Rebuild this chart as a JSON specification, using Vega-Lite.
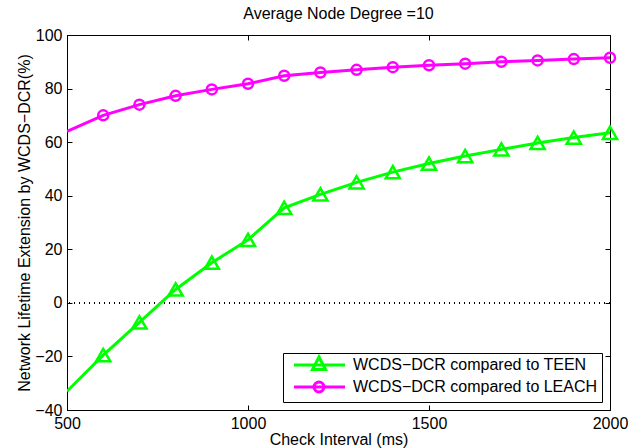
{
  "$schema": "https://vega.github.io/schema/vega-lite/v6.json",
  "autosize": "none",
  "width": 543,
  "height": 375,
  "padding": {"left": 67, "top": 35, "right": 20, "bottom": 38},
  "background": "white",
  "title": {"text": "Average Node Degree =10", "fontSize": 16, "fontWeight": "normal", "font": "Liberation Sans", "color": "black", "offset": 5},
  "config": {
    "view": {"stroke": "black", "strokeWidth": 1},
    "axis": {"grid": false, "labelFont": "Liberation Sans", "titleFont": "Liberation Sans", "labelFontSize": 16, "titleFontSize": 16, "titleFontWeight": "normal", "labelColor": "black", "titleColor": "black", "tickColor": "black", "domainColor": "black", "tickSize": -5, "labelPadding": 10}
  },
  "data": {"values": [
    {"interval": 500, "ext": -33, "series": "WCDS−DCR compared to TEEN"},
    {"interval": 600, "ext": -19.5, "series": "WCDS−DCR compared to TEEN"},
    {"interval": 700, "ext": -7.3, "series": "WCDS−DCR compared to TEEN"},
    {"interval": 800, "ext": 5, "series": "WCDS−DCR compared to TEEN"},
    {"interval": 900, "ext": 15, "series": "WCDS−DCR compared to TEEN"},
    {"interval": 1000, "ext": 23.5, "series": "WCDS−DCR compared to TEEN"},
    {"interval": 1100, "ext": 35.5, "series": "WCDS−DCR compared to TEEN"},
    {"interval": 1200, "ext": 40.5, "series": "WCDS−DCR compared to TEEN"},
    {"interval": 1300, "ext": 45, "series": "WCDS−DCR compared to TEEN"},
    {"interval": 1400, "ext": 48.8, "series": "WCDS−DCR compared to TEEN"},
    {"interval": 1500, "ext": 52, "series": "WCDS−DCR compared to TEEN"},
    {"interval": 1600, "ext": 54.8, "series": "WCDS−DCR compared to TEEN"},
    {"interval": 1700, "ext": 57.3, "series": "WCDS−DCR compared to TEEN"},
    {"interval": 1800, "ext": 59.7, "series": "WCDS−DCR compared to TEEN"},
    {"interval": 1900, "ext": 61.7, "series": "WCDS−DCR compared to TEEN"},
    {"interval": 2000, "ext": 63.5, "series": "WCDS−DCR compared to TEEN"},
    {"interval": 500, "ext": 64, "series": "WCDS−DCR compared to LEACH"},
    {"interval": 600, "ext": 70, "series": "WCDS−DCR compared to LEACH"},
    {"interval": 700, "ext": 74, "series": "WCDS−DCR compared to LEACH"},
    {"interval": 800, "ext": 77.3, "series": "WCDS−DCR compared to LEACH"},
    {"interval": 900, "ext": 79.7, "series": "WCDS−DCR compared to LEACH"},
    {"interval": 1000, "ext": 81.8, "series": "WCDS−DCR compared to LEACH"},
    {"interval": 1100, "ext": 84.8, "series": "WCDS−DCR compared to LEACH"},
    {"interval": 1200, "ext": 86, "series": "WCDS−DCR compared to LEACH"},
    {"interval": 1300, "ext": 87, "series": "WCDS−DCR compared to LEACH"},
    {"interval": 1400, "ext": 88, "series": "WCDS−DCR compared to LEACH"},
    {"interval": 1500, "ext": 88.7, "series": "WCDS−DCR compared to LEACH"},
    {"interval": 1600, "ext": 89.3, "series": "WCDS−DCR compared to LEACH"},
    {"interval": 1700, "ext": 90, "series": "WCDS−DCR compared to LEACH"},
    {"interval": 1800, "ext": 90.5, "series": "WCDS−DCR compared to LEACH"},
    {"interval": 1900, "ext": 91, "series": "WCDS−DCR compared to LEACH"},
    {"interval": 2000, "ext": 91.5, "series": "WCDS−DCR compared to LEACH"}
  ]},
  "resolve": {"axis": {"x": "independent", "y": "independent"}},
  "layer": [
    {
      "mark": {"type": "rule", "strokeDash": [1, 4], "color": "black", "strokeWidth": 1},
      "encoding": {"y": {"datum": 0, "type": "quantitative", "axis": null}}
    },
    {
      "mark": {"type": "line", "strokeWidth": 3, "clip": true},
      "encoding": {
        "x": {"field": "interval", "type": "quantitative", "scale": {"domain": [500, 2000], "nice": false, "zero": false}, "axis": {"values": [500, 1000, 1500, 2000], "format": "d", "title": "Check Interval (ms)", "titlePadding": 0, "labelFlush": false}},
        "y": {"field": "ext", "type": "quantitative", "scale": {"domain": [-40, 100], "nice": false}, "axis": {"values": [-40, -20, 0, 20, 40, 60, 80, 100], "format": "d", "title": "Network Lifetime Extension by WCDS−DCR(%)", "titlePadding": 2}},
        "color": {"field": "series", "type": "nominal", "sort": ["WCDS−DCR compared to TEEN", "WCDS−DCR compared to LEACH"], "scale": {"domain": ["WCDS−DCR compared to TEEN", "WCDS−DCR compared to LEACH"], "range": ["#00ff00", "#ff00ff"]},
          "legend": {"title": null, "orient": "bottom-right", "offset": 8, "strokeColor": "black", "fillColor": "white", "padding": 4, "labelFont": "Liberation Sans", "labelFontSize": 16, "labelColor": "black", "labelLimit": 400, "symbolSize": 144, "symbolStrokeWidth": 3, "rowPadding": 0, "labelOffset": 50,
            "encode": {"symbols": {"update": {"shape": {"signal": "indexof(datum.value, 'TEEN') >= 0 ? 'M-0.167,0L8.33,0M4,-1.33L5.083,0.75L2.917,0.75Z' : 'M-0.167,0L8.33,0M4.833,0A0.833,0.833,0,1,1,3.167,0A0.833,0.833,0,1,1,4.833,0Z'"}, "fill": {"value": "transparent"}, "strokeWidth": {"value": 3}}}}}
        },
        "detail": {"field": "series"}
      }
    },
    {
      "transform": [{"filter": "datum.interval >= 600 && indexof(datum.series, 'TEEN') >= 0"}],
      "mark": {"type": "point", "shape": "triangle-up", "filled": false, "strokeWidth": 2.5, "size": 200, "opacity": 1},
      "encoding": {
        "x": {"field": "interval", "type": "quantitative", "axis": null},
        "y": {"field": "ext", "type": "quantitative", "axis": null},
        "color": {"field": "series", "type": "nominal", "legend": null}
      }
    },
    {
      "transform": [{"filter": "datum.interval >= 600 && indexof(datum.series, 'LEACH') >= 0"}],
      "mark": {"type": "point", "shape": "circle", "filled": false, "strokeWidth": 2.5, "size": 100, "opacity": 1},
      "encoding": {
        "x": {"field": "interval", "type": "quantitative", "axis": null},
        "y": {"field": "ext", "type": "quantitative", "axis": null},
        "color": {"field": "series", "type": "nominal", "legend": null}
      }
    },
    {
      "mark": {"type": "point", "opacity": 0},
      "encoding": {
        "x": {"field": "interval", "type": "quantitative", "axis": {"orient": "top", "values": [500, 1000, 1500, 2000], "labels": false, "title": null, "domain": false}},
        "y": {"field": "ext", "type": "quantitative", "axis": {"orient": "right", "values": [-40, -20, 0, 20, 40, 60, 80, 100], "labels": false, "title": null, "domain": false}}
      }
    }
  ]
}
